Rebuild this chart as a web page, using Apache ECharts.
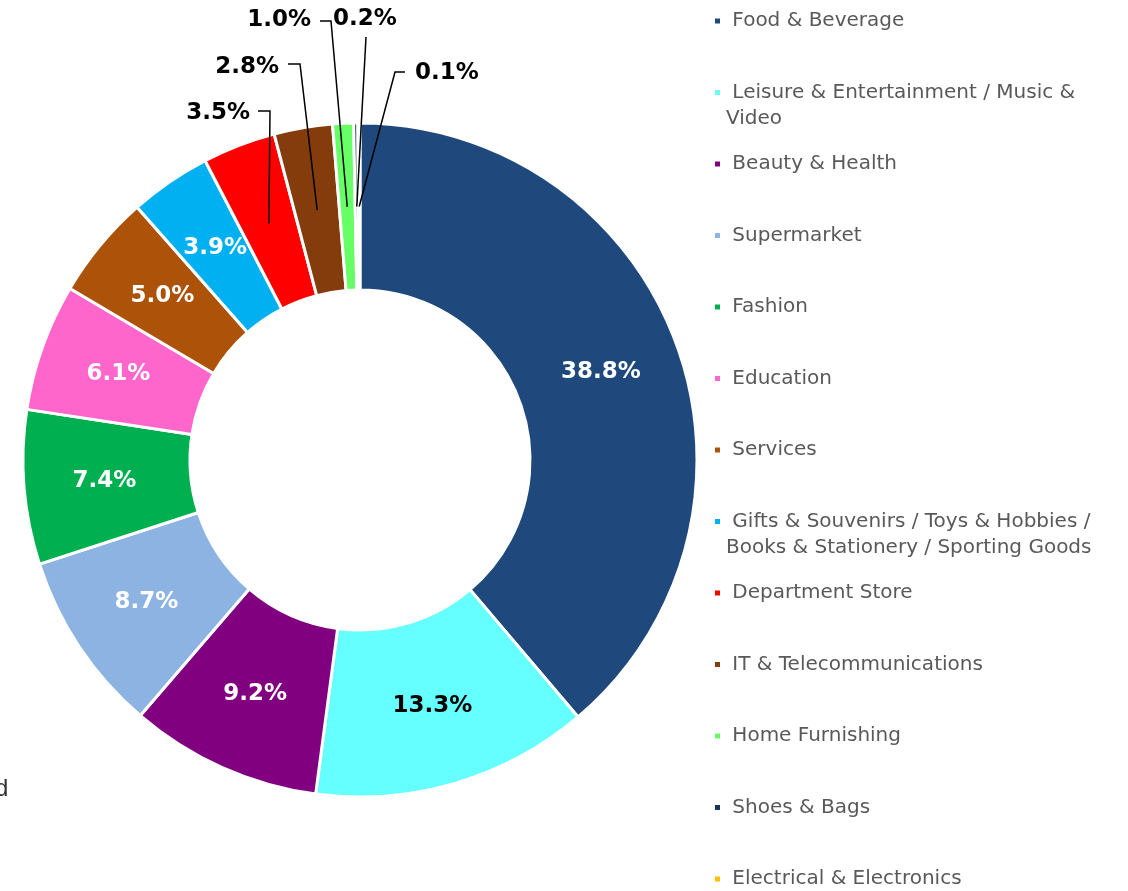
<!DOCTYPE html>
<html>
<head>
<meta charset="utf-8">
<script src="https://cdn.jsdelivr.net/npm/echarts@6/dist/echarts.min.js"></script>
<style>
  html, body { margin: 0; padding: 0; background: #fff; }
  #chart { width: 1128px; height: 891px; }
</style>
</head>
<body>
<div id="chart"></div>
<script>
// data
const categories = [
  'Food & Beverage',
  'Leisure & Entertainment / Music & Video',
  'Beauty & Health',
  'Supermarket',
  'Fashion',
  'Education',
  'Services',
  'Gifts & Souvenirs / Toys & Hobbies / Books & Stationery / Sporting Goods',
  'Department Store',
  'IT & Telecommunications',
  'Home Furnishing',
  'Shoes & Bags',
  'Electrical & Electronics'
]
const shares = [38.8, 13.3, 9.2, 8.7, 7.4, 6.1, 5.0, 3.9, 3.5, 2.8, 1.0, 0.2, 0.1]
const legendLabels = [
  ' Food & Beverage',
  ' Leisure & Entertainment / Music &\nVideo',
  ' Beauty & Health',
  ' Supermarket',
  ' Fashion',
  ' Education',
  ' Services',
  ' Gifts & Souvenirs / Toys & Hobbies /\nBooks & Stationery / Sporting Goods',
  ' Department Store',
  ' IT & Telecommunications',
  ' Home Furnishing',
  ' Shoes & Bags',
  ' Electrical & Electronics'
]

// styles
const colors = ['#1F497D', '#66FFFF', '#800080', '#8DB3E2', '#00B050', '#FF66CC', '#AC5209',
  '#00B0F0', '#FF0000', '#843C0C', '#66FF66', '#17375E', '#FFC000']
const labelColors = ['#fff', '#000', '#fff', '#fff', '#fff', '#fff', '#fff', '#fff']

// callout labels for the thin slices: text anchor + line start/elbow
const callouts = {
  8: { x: 250, y: 113, align: 'right', line: [[258, 111], [270, 111]] },
  9: { x: 279, y: 67, align: 'right', line: [[288, 64], [300, 64]] },
  10: { x: 311, y: 20, align: 'right', line: [[320, 21], [331, 21]] },
  11: { x: 333, y: 19, align: 'left', line: [[366, 37], [366, 37]] },
  12: { x: 415, y: 73, align: 'left', line: [[405, 72], [395, 72]] }
}

const cx = 360, cy = 460, r0 = 170, r1 = 337
const total = shares.reduce((a, b) => a + b, 0)
const midPoint = (idx, r) => {
  let before = 0
  for (let i = 0; i < idx; i++) before += shares[i]
  const a = (before + shares[idx] / 2) / total * Math.PI * 2
  return [cx + r * Math.sin(a), cy - r * Math.cos(a)]
}

const labelFont = { fontFamily: 'DejaVu Sans', fontWeight: 'bold', fontSize: 23 }

// main ring with the inside labels
const ringData = categories.map((name, i) => ({
  name,
  value: shares[i],
  itemStyle: { color: colors[i] },
  label: i < labelColors.length
    ? { show: true, position: 'inside', color: labelColors[i] }
    : { show: false }
}))

// transparent copy on top, only for callout labels so their lines sit over the slices
const calloutData = categories.map((name, i) => ({
  name,
  value: shares[i],
  label: { show: !!callouts[i] },
  labelLine: { show: !!callouts[i] }
}))

const iconCenters = categories.map((_, i) => 21 + i * 71.5)
const legends = categories.map((name, i) => {
  const twoLine = legendLabels[i].includes('\n')
  return {
    data: [name],
    orient: 'vertical',
    left: 713,
    top: iconCenters[i] - (twoLine ? 39 : 13),
    padding: 0,
    itemGap: 0,
    itemWidth: 7,
    itemHeight: 7,
    icon: 'rect',
    selectedMode: false,
    // blank first line keeps the icon level with the first text line
    formatter: () => (twoLine ? '\n' : '') + legendLabels[i],
    textStyle: {
      fontFamily: 'DejaVu Sans',
      fontSize: 20,
      color: '#595959',
      lineHeight: 26
    }
  }
})

const chart = echarts.init(document.getElementById('chart'), null, { renderer: 'canvas' })
chart.setOption({
  backgroundColor: '#fff',
  animation: false,
  legend: legends,
  graphic: [{
    type: 'text',
    left: -5,
    top: 777,
    style: { text: 'd', font: '24px "Liberation Sans"', fill: '#333' }
  }],
  series: [{
    type: 'pie',
    z: 2,
    center: [cx, cy],
    radius: [r0, r1],
    startAngle: 90,
    clockwise: true,
    avoidLabelOverlap: false,
    itemStyle: { borderColor: '#fff', borderWidth: 3 },
    label: {
      ...labelFont,
      formatter: p => p.value.toFixed(1) + '%'
    },
    labelLine: { show: false },
    emphasis: { disabled: true },
    data: ringData
  }, {
    type: 'pie',
    z: 5,
    silent: true,
    center: [cx, cy],
    radius: [r0, r1],
    startAngle: 90,
    clockwise: true,
    avoidLabelOverlap: false,
    itemStyle: { color: 'transparent', borderWidth: 0 },
    label: {
      ...labelFont,
      position: 'outside',
      color: '#000',
      formatter: p => p.value.toFixed(1) + '%'
    },
    labelLine: { lineStyle: { color: '#000', width: 1.5 } },
    labelLayout: params => {
      const c = callouts[params.dataIndex]
      if (!c) return {}
      return {
        x: c.x,
        y: c.y,
        align: c.align,
        verticalAlign: 'middle',
        labelLinePoints: [midPoint(params.dataIndex, (r0 + r1) / 2), c.line[1], c.line[0]]
      }
    },
    emphasis: { disabled: true },
    data: calloutData
  }]
})
</script>
</body>
</html>
